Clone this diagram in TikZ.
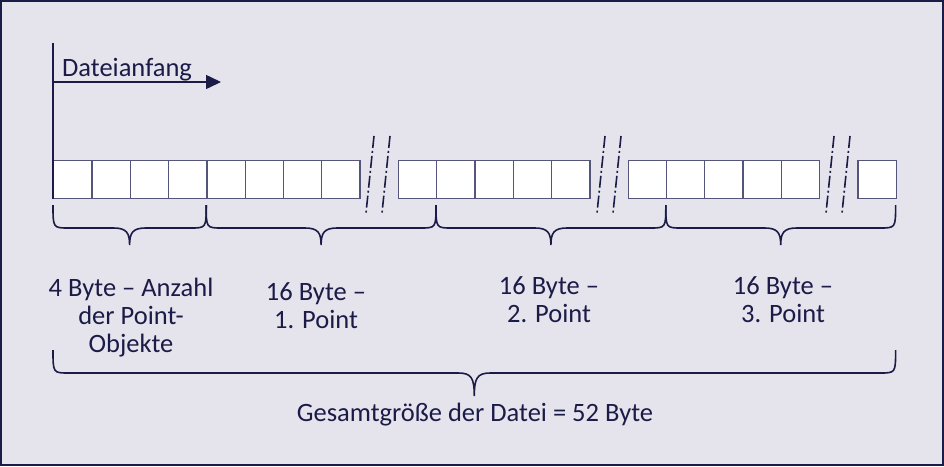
\documentclass[tikz,border=0pt]{standalone}
\usepackage{fontspec}
\setmainfont{Carlito}
\usetikzlibrary{arrows.meta}
\definecolor{bgc}{HTML}{E5E4EC}
\definecolor{ink}{HTML}{1B1B48}
\definecolor{boxc}{HTML}{55557A}
\tikzset{
  cell/.style={draw=boxc, line width=1.3pt, fill=white, minimum width=38.3pt, minimum height=38pt, inner sep=0pt, anchor=north west},
  brk/.style={draw=ink, line width=1.6pt, dash pattern=on 12pt off 3pt on 2pt off 3pt},
  brc/.style={draw=ink, line width=1.6pt},
  lbl/.style={text=ink, font=\fontsize{26.5}{28}\selectfont, align=center, inner sep=0pt},
}
\newcommand\mybrace[5]{%
  \draw[brc] (#1,#3) .. controls (#1,#4) and (#1,#4) .. ({#1+16},#4)
    -- ({(#1+#2)/2-16},#4) .. controls ({(#1+#2)/2-3},#4) and ({(#1+#2)/2},{#4+5}) .. ({(#1+#2)/2},#5)
    .. controls ({(#1+#2)/2},{#4+5}) and ({(#1+#2)/2+3},#4) .. ({(#1+#2)/2+16},#4)
    -- ({#2-16},#4) .. controls (#2,#4) and (#2,#4) .. (#2,#3);}
\begin{document}
\begin{tikzpicture}[x=1pt,y=-1pt]
\useasboundingbox (0,0) rectangle (944,466);
\fill[bgc] (0,0) rectangle (944,466);
\draw[ink, line width=2pt] (1,1) rectangle (943,465);
% cells
\foreach \i/\x in {1/53,2/91.3,3/129.6,4/167.9,5/206.2,6/244.5,7/282.8,8/321.1,
  9/397.7,10/436,11/474.3,12/512.6,13/550.9,
  14/627.5,15/665.8,16/704.1,17/742.4,18/780.7,19/857.3}
  \node[cell] (c\i) at (\x,160) {};
% start line and arrow
\coordinate (top) at (53,43);
\coordinate (arrE) at (221,82);
\coordinate (arrS) at (53,82);
\draw[ink, line width=1.8pt] (top) -- (c1.south west);
\draw[ink, line width=1.5pt, -{Triangle[length=15pt,width=14pt]}] (arrS) -- (arrE);
\node[lbl, anchor=base west] (dat) at (62,76) {Dateianfang};
% breaks
\foreach \x in {370,386,601,617,830,846}
  \draw[brk] (\x+4,136) -- (\x-4,213);
% braces
\mybrace{53}{206.2}{205}{228}{245}
\mybrace{206.2}{436}{205}{228}{245}
\mybrace{436}{665.8}{205}{228}{245}
\mybrace{665.8}{895.6}{205}{228}{245}
\mybrace{53}{895.6}{350}{373}{396}
% labels
\node[lbl] (l1) at (131,318) {4 Byte – Anzahl\\der Point-\\Objekte};
\node[lbl] (l2) at (316,306) {16 Byte –\\1. Point};
\node[lbl] (l3) at (549,300) {16 Byte –\\2. Point};
\node[lbl] (l4) at (783,300) {16 Byte –\\3. Point};
\node[lbl] (tot) at (475,415) {Gesamtgröße der Datei = 52 Byte};
\end{tikzpicture}
\end{document}
